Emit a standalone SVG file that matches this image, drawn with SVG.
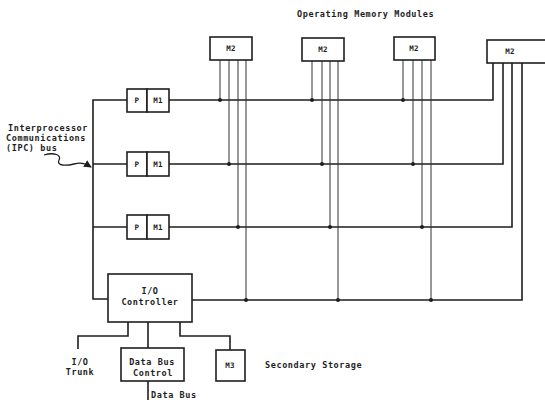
<svg xmlns="http://www.w3.org/2000/svg" width="545" height="403" viewBox="0 0 545 403">
<defs>
<style>
.t{font-family:"DejaVu Sans Mono","Liberation Mono",monospace;font-weight:bold;font-size:8.5px;letter-spacing:0.6px;fill:#1e1e1e}
.s{font-size:7.5px;letter-spacing:0.3px}
.box{fill:#fff;stroke:#1e1e1e;stroke-width:1.6}
.bus{fill:none;stroke:#1e1e1e;stroke-width:1.6}
.v{fill:none;stroke:#333;stroke-width:1}
.dot{fill:#1e1e1e}
</style>
<marker id="ah" viewBox="0 0 8 8" refX="7" refY="4" markerWidth="6" markerHeight="6" orient="auto">
<path d="M0,0 L8,4 L0,8 Z" fill="#1e1e1e"/>
</marker>
</defs>
<rect width="545" height="403" fill="#fff"/>

<g id="connectors">
<!-- left IPC bus -->
<path class="bus" d="M127,100 H93 V299 H108"/>
<path class="bus" d="M93,164 H127"/>
<path class="bus" d="M93,227 H127"/>
<!-- rows -->
<path class="bus" d="M169,100 H493 V63"/>
<path class="bus" d="M169,164 H503 V63"/>
<path class="bus" d="M169,227 H512 V63"/>
<path class="bus" d="M192,300 H522 V63"/>
<!-- verticals from M2 boxes -->
<path class="v" d="M220,60 V100 M229,60 V164 M238,60 V227 M246,60 V300"/>
<path class="v" d="M312,61 V100 M322,61 V164 M330,61 V227 M338,61 V300"/>
<path class="v" d="M403,60 V100 M413,60 V164 M422,60 V227 M431,60 V300"/>
<!-- junction dots -->
<g class="dot">
<circle cx="220" cy="100" r="2"/><circle cx="312" cy="100" r="2"/><circle cx="403" cy="100" r="2"/>
<circle cx="229" cy="164" r="2"/><circle cx="322" cy="164" r="2"/><circle cx="413" cy="164" r="2"/>
<circle cx="238" cy="227" r="2"/><circle cx="330" cy="227" r="2"/><circle cx="422" cy="227" r="2"/>
<circle cx="246" cy="300" r="2"/><circle cx="338" cy="300" r="2"/><circle cx="431" cy="300" r="2"/>
</g>
<!-- I/O controller branches -->
<path class="bus" d="M128,322 V336 H78 V349"/>
<path class="bus" d="M148,322 V348"/>
<path class="bus" d="M148,381 V400"/>
<path class="bus" d="M180,322 V336 H230 V350"/>
<!-- wavy pointer -->
<path fill="none" stroke="#1e1e1e" stroke-width="1.3" d="M44,155 C54,152 62,155 59,160 C56,166 66,166 74,164 C82,162 86,164 91,167" marker-end="url(#ah)"/>
</g>

<g id="title"><text class="t" x="297" y="17">Operating Memory Modules</text></g>

<g id="m2-1"><rect class="box" x="210" y="37" width="42" height="23"/><text class="t s" x="231" y="51" text-anchor="middle">M2</text></g>
<g id="m2-2"><rect class="box" x="302" y="38" width="42" height="23"/><text class="t s" x="323" y="52" text-anchor="middle">M2</text></g>
<g id="m2-3"><rect class="box" x="394" y="37" width="41" height="23"/><text class="t s" x="414" y="51" text-anchor="middle">M2</text></g>
<g id="m2-4"><rect class="box" x="487" y="40" width="64" height="23"/><text class="t s" x="510" y="54" text-anchor="middle">M2</text></g>

<g id="pm1-1"><rect class="box" x="127" y="89" width="20" height="23"/><rect class="box" x="147" y="89" width="22" height="23"/><text class="t s" x="137" y="103" text-anchor="middle">P</text><text class="t s" x="158" y="103" text-anchor="middle">M1</text></g>
<g id="pm1-2"><rect class="box" x="127" y="152" width="20" height="24"/><rect class="box" x="147" y="152" width="22" height="24"/><text class="t s" x="137" y="167" text-anchor="middle">P</text><text class="t s" x="158" y="167" text-anchor="middle">M1</text></g>
<g id="pm1-3"><rect class="box" x="127" y="215" width="20" height="24"/><rect class="box" x="147" y="215" width="22" height="24"/><text class="t s" x="137" y="230" text-anchor="middle">P</text><text class="t s" x="158" y="230" text-anchor="middle">M1</text></g>

<g id="ipc-label">
<text class="t" x="8" y="131">Interprocessor</text>
<text class="t" x="6" y="141">Communications</text>
<text class="t" x="6" y="151">(IPC) bus</text>
</g>

<g id="io-controller"><rect class="box" x="108" y="274" width="84" height="48"/><text class="t" x="150" y="294" text-anchor="middle">I/O</text><text class="t" x="150" y="305" text-anchor="middle">Controller</text></g>

<g id="io-trunk"><text class="t" x="80" y="365" text-anchor="middle">I/O</text><text class="t" x="80" y="375" text-anchor="middle">Trunk</text></g>

<g id="data-bus-control"><rect class="box" x="121" y="348" width="63" height="33"/><text class="t" x="152" y="365" text-anchor="middle">Data Bus</text><text class="t" x="153" y="376" text-anchor="middle">Control</text></g>

<g id="data-bus-label"><text class="t" x="151" y="398">Data Bus</text></g>

<g id="m3"><rect class="box" x="216" y="350" width="29" height="31"/><text class="t s" x="230" y="368" text-anchor="middle">M3</text></g>

<g id="secondary-storage"><text class="t" x="265" y="368">Secondary Storage</text></g>
</svg>
